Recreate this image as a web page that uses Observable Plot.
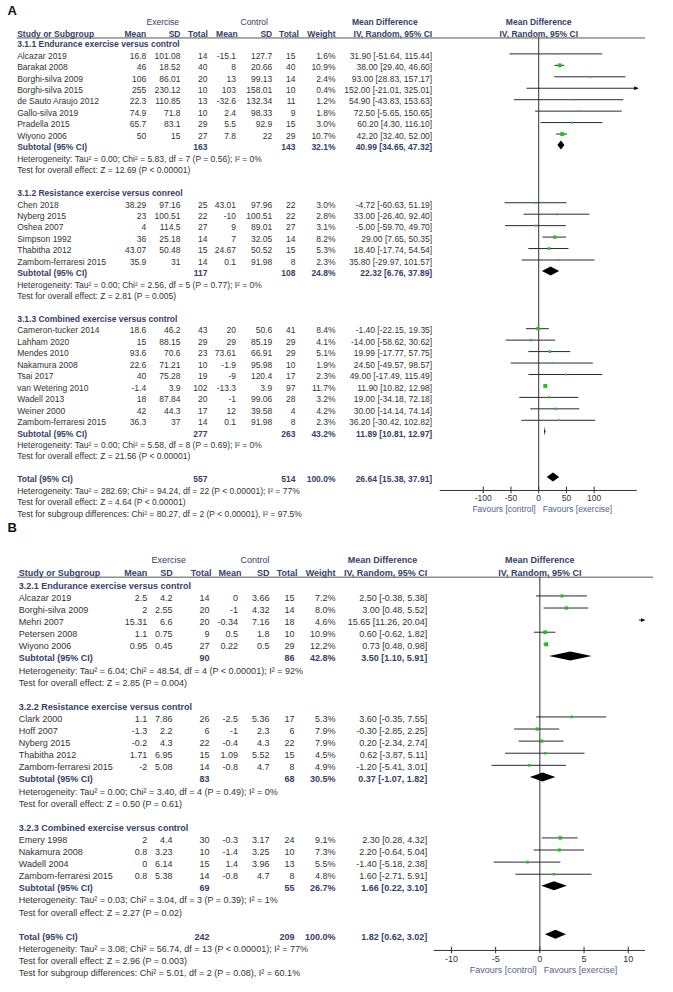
<!DOCTYPE html>
<html><head><meta charset="utf-8">
<script src="https://cdn.jsdelivr.net/npm/d3@7"></script>
<script src="https://cdn.jsdelivr.net/npm/@observablehq/plot@0.6"></script>
<style>
body{margin:0;background:#fff;}
#chart{width:673px;}
#chart svg{display:block;overflow:visible;}
</style></head><body><div id="chart"></div>
<script>
// ================= Panel A data =================
const A_groups = ["3.1.1 Endurance exercise versus control", "3.1.2 Resistance exercise versus conreol", "3.1.3 Combined exercise versus control"];
const A_study = ["Alcazar 2019","Barakat 2008","Borghi-silva 2009","Borghi-silva 2015","de Sauto Araujo 2012","Gallo-silva 2019","Pradella 2015","Wiyono 2006",
  "Chen 2018","Nyberg 2015","Oshea 2007","Simpson 1992","Thabitha 2012","Zambom-ferraresi 2015",
  "Cameron-tucker 2014","Lahham 2020","Mendes 2010","Nakamura 2008","Tsai 2017","van Wetering 2010","Wadell 2013","Weiner 2000","Zambom-ferraresi 2015"];
const A_group  = [0,0,0,0,0,0,0,0, 1,1,1,1,1,1, 2,2,2,2,2,2,2,2,2];
const A_exMean = [16.8,46,106,255,22.3,74.9,65.7,50, 38.29,23,4,36,43.07,35.9, 18.6,15,93.6,22.6,40,-1.4,18,42,36.3];
const A_exSD   = [101.08,18.52,86.01,230.12,110.85,71.8,83.1,15, 97.16,100.51,114.5,25.18,50.48,31, 46.2,88.15,70.6,71.21,75.28,3.9,87.84,44.3,37];
const A_exN    = [14,40,20,10,13,10,29,27, 25,22,27,14,15,14, 43,29,23,10,19,102,20,17,14];
const A_ctMean = [-15.1,8,13,103,-32.6,2.4,5.5,7.8, 43.01,-10,9,7,24.67,0.1, 20,29,73.61,-1.9,-9,-13.3,-1,12,0.1];
const A_ctSD   = [127.7,20.66,99.13,158.01,132.34,98.33,92.9,22, 97.96,100.51,89.01,32.05,50.52,91.98, 50.6,85.19,66.91,95.98,120.4,3.9,99.06,39.58,91.98];
const A_ctN    = [15,40,14,10,11,9,15,29, 22,22,27,14,15,8, 41,29,29,10,17,97,28,4,8];
const A_weight = [1.6,10.9,2.4,0.4,1.2,1.8,3.0,10.7, 3.0,2.8,3.1,8.2,5.3,2.3, 8.4,4.1,5.1,1.9,2.3,11.7,3.2,4.2,2.3];
const A_md     = [31.90,38.00,93.00,152.00,54.90,72.50,60.20,42.20, -4.72,33.00,-5.00,29.00,18.40,35.80, -1.40,-14.00,19.99,24.50,49.00,11.90,19.00,30.00,36.20];
const A_lo     = [-51.64,29.40,28.83,-21.01,-43.83,-5.65,4.30,32.40, -60.63,-26.40,-59.70,7.65,-17.74,-29.97, -22.15,-58.62,-17.77,-49.57,-17.49,10.82,-34.18,-14.14,-30.42];
const A_hi     = [115.44,46.60,157.17,325.01,153.63,150.65,116.10,52.00, 51.19,92.40,49.70,50.35,54.54,101.57, 19.35,30.62,57.75,98.57,115.49,12.98,72.18,74.14,102.82];
const A_subExN = [163,117,277];
const A_subCtN = [143,108,263];
const A_subWeight = [32.1,24.8,43.2];
const A_subMd = [40.99,22.32,11.89];
const A_subLo = [34.65,6.76,10.81];
const A_subHi = [47.32,37.89,12.97];
const A_subHet = ["Tau\u00b2 = 0.00; Chi\u00b2 = 5.83, df = 7 (P = 0.56); I\u00b2 = 0%",
                  "Tau\u00b2 = 0.00; Chi\u00b2 = 2.56, df = 5 (P = 0.77); I\u00b2 = 0%",
                  "Tau\u00b2 = 0.00; Chi\u00b2 = 5.58, df = 8 (P = 0.69); I\u00b2 = 0%"];
const A_subTest = ["Z = 12.69 (P < 0.00001)","Z = 2.81 (P = 0.005)","Z = 21.56 (P < 0.00001)"];
const A_total = {exN: 557, ctN: 514, weight: 100.0, md: 26.64, lo: 15.38, hi: 37.91};
const A_totHet = "Tau\u00b2 = 282.69; Chi\u00b2 = 94.24, df = 22 (P < 0.00001); I\u00b2 = 77%";
const A_totTest = "Z = 4.64 (P < 0.00001)";
const A_sgTest = "Chi\u00b2 = 80.27, df = 2 (P < 0.00001), I\u00b2 = 97.5%";
const A_ticks = [-100,-50,0,50,100];

// ================= Panel B data =================
const B_groups = ["3.2.1 Endurance exercise versus control", "3.2.2 Resistance exercise versus control", "3.2.3 Combined exercise versus control"];
const B_study = ["Alcazar 2019","Borghi-silva 2009","Mehri 2007","Petersen 2008","Wiyono 2006",
  "Clark 2000","Hoff 2007","Nyberg 2015","Thabitha 2012","Zambom-ferraresi 2015",
  "Emery 1998","Nakamura 2008","Wadell 2004","Zambom-ferraresi 2015"];
const B_group  = [0,0,0,0,0, 1,1,1,1,1, 2,2,2,2];
const B_exMean = [2.5,2,15.31,1.1,0.95, 1.1,-1.3,-0.2,1.71,-2, 2,0.8,0,0.8];
const B_exSD   = [4.2,2.55,6.6,0.75,0.45, 7.86,2.2,4.3,6.95,5.08, 4.4,3.23,6.14,5.38];
const B_exN    = [14,20,20,9,27, 26,6,22,15,14, 30,10,15,14];
const B_ctMean = [0,-1,-0.34,0.5,0.22, -2.5,-1,-0.4,1.09,-0.8, -0.3,-1.4,1.4,-0.8];
const B_ctSD   = [3.66,4.32,7.16,1.8,0.5, 5.36,2.3,4.3,5.52,4.7, 3.17,3.25,3.96,4.7];
const B_ctN    = [15,14,18,10,29, 17,6,22,15,8, 24,10,13,8];
const B_weight = [7.2,8.0,4.6,10.9,12.2, 5.3,7.9,7.9,4.5,4.9, 9.1,7.3,5.5,4.8];
const B_md     = [2.50,3.00,15.65,0.60,0.73, 3.60,-0.30,0.20,0.62,-1.20, 2.30,2.20,-1.40,1.60];
const B_lo     = [-0.38,0.48,11.26,-0.62,0.48, -0.35,-2.85,-2.34,-3.87,-5.41, 0.28,-0.64,-5.18,-2.71];
const B_hi     = [5.38,5.52,20.04,1.82,0.98, 7.55,2.25,2.74,5.11,3.01, 4.32,5.04,2.38,5.91];
const B_subExN = [90,83,69];
const B_subCtN = [86,68,55];
const B_subWeight = [42.8,30.5,26.7];
const B_subMd = [3.50,0.37,1.66];
const B_subLo = [1.10,-1.07,0.22];
const B_subHi = [5.91,1.82,3.10];
const B_subHet = ["Tau\u00b2 = 6.04; Chi\u00b2 = 48.54, df = 4 (P < 0.00001); I\u00b2 = 92%",
                  "Tau\u00b2 = 0.00; Chi\u00b2 = 3.40, df = 4 (P = 0.49); I\u00b2 = 0%",
                  "Tau\u00b2 = 0.03; Chi\u00b2 = 3.04, df = 3 (P = 0.39); I\u00b2 = 1%"];
const B_subTest = ["Z = 2.85 (P = 0.004)","Z = 0.50 (P = 0.61)","Z = 2.27 (P = 0.02)"];
const B_total = {exN: 242, ctN: 209, weight: 100.0, md: 1.82, lo: 0.62, hi: 3.02};
const B_totHet = "Tau\u00b2 = 3.08; Chi\u00b2 = 56.74, df = 13 (P < 0.00001); I\u00b2 = 77%";
const B_totTest = "Z = 2.96 (P = 0.003)";
const B_sgTest = "Chi\u00b2 = 5.01, df = 2 (P = 0.08), I\u00b2 = 60.1%";
const B_ticks = [-10,-5,0,5,10];

// shared header texts
const headerCols = ["Mean","SD","Total","Mean","SD","Total","Weight"];
const groupHeads = ["Exercise","Control"];
const mdHead1 = "Mean Difference";
const mdHead2 = "IV, Random, 95% CI";
const favours = ["Favours [control]","Favours [exercise]"];

// ================= styling / layout =================
const FONT = "'Liberation Sans', Arial, Helvetica, sans-serif";
const BOLD = "#34416a";
const BODY = "#333333";
const FAV = "#53618f";
const GREEN = "#1bc41b";

const layoutA = {
  letter: "A", fontSize: 8.5, height: 519, y0: 44, dy: 11.45,
  xDomain: [-177.7, 177.7], xRange: [439.7, 636.7],
  name: 16.7, cols: [145.7, 180, 207, 235.5, 271.7, 295, 335], heads: [145.7, 180, 207.3, 237.3, 271.7, 298.3, 335],
  md: 431.7, mdHeadCenter: 384.3, exCenter: 162.3, ctCenter: 253.7,
  letterRow: -2.97, groupHeadRow: -1.95, headRow: -0.93, headLine: -0.57, lineLeft: 16.7, lineRight: 645,
  axisRow: 38.95, tickLabelRow: 39.67, favRow: 40.63, tickHalf: 0.29, diamondHalf: 0.39, shift: -0.18, arrowEdge: 176.5
};
const layoutB = {
  letter: "B", fontSize: 9, height: 473, y0: 66.5, dy: 12.1,
  xDomain: [-11.95, 11.95], xRange: [433.7, 645],
  name: 18.3, cols: [146.7, 172, 209, 237.5, 269, 294, 335], heads: [146.7, 172.3, 211, 241, 269, 297, 335],
  md: 426.7, mdHeadCenter: 382, exCenter: 168.3, ctCenter: 254.5,
  letterRow: -4.78, groupHeadRow: -2.11, headRow: -1.09, headLine: -0.73, lineLeft: 17, lineRight: 653,
  axisRow: 30.12, tickLabelRow: 30.8, favRow: 31.78, tickHalf: 0.27, diamondHalf: 0.37, shift: -0.18, arrowEdge: 11.7
};

const P_A = {groups: A_groups, study: A_study, group: A_group, exMean: A_exMean, exSD: A_exSD, exN: A_exN,
  ctMean: A_ctMean, ctSD: A_ctSD, ctN: A_ctN, weight: A_weight, md: A_md, lo: A_lo, hi: A_hi,
  subExN: A_subExN, subCtN: A_subCtN, subWeight: A_subWeight, subMd: A_subMd, subLo: A_subLo, subHi: A_subHi,
  subHet: A_subHet, subTest: A_subTest, total: A_total, totHet: A_totHet, totTest: A_totTest, sgTest: A_sgTest, ticks: A_ticks};
const P_B = {groups: B_groups, study: B_study, group: B_group, exMean: B_exMean, exSD: B_exSD, exN: B_exN,
  ctMean: B_ctMean, ctSD: B_ctSD, ctN: B_ctN, weight: B_weight, md: B_md, lo: B_lo, hi: B_hi,
  subExN: B_subExN, subCtN: B_subCtN, subWeight: B_subWeight, subMd: B_subMd, subLo: B_subLo, subHi: B_subHi,
  subHet: B_subHet, subTest: B_subTest, total: B_total, totHet: B_totHet, totTest: B_totTest, sgTest: B_sgTest, ticks: B_ticks};

function buildRows(P) {
  const rows = [];
  let r = 0;
  P.groups.forEach((g, gi) => {
    rows.push({row: r++, kind: "group", label: g});
    P.study.forEach((s, i) => {
      if (P.group[i] !== gi) return;
      rows.push({row: r++, kind: "study", label: s,
        cells: [P.exMean[i], P.exSD[i], P.exN[i], P.ctMean[i], P.ctSD[i], P.ctN[i]],
        weight: P.weight[i], md: P.md[i], lo: P.lo[i], hi: P.hi[i]});
    });
    rows.push({row: r++, kind: "sum", label: "Subtotal (95% CI)", exN: P.subExN[gi], ctN: P.subCtN[gi],
      weight: P.subWeight[gi], md: P.subMd[gi], lo: P.subLo[gi], hi: P.subHi[gi]});
    rows.push({row: r++, kind: "note", label: "Heterogeneity: " + P.subHet[gi]});
    rows.push({row: r++, kind: "note", label: "Test for overall effect: " + P.subTest[gi]});
    r++; // blank line
  });
  rows.push({row: r++, kind: "sum", label: "Total (95% CI)", ...P.total});
  rows.push({row: r++, kind: "note", label: "Heterogeneity: " + P.totHet});
  rows.push({row: r++, kind: "note", label: "Test for overall effect: " + P.totTest});
  rows.push({row: r++, kind: "note", label: "Test for subgroup differences: " + P.sgTest});
  return rows;
}

const ciText = d => `${d.md.toFixed(2)} [${d.lo.toFixed(2)}, ${d.hi.toFixed(2)}]`;
const rightTri = {draw(ctx, size) { const s = Math.sqrt(size) / 1.6; ctx.moveTo(s, 0); ctx.lineTo(-s, -s * 0.85); ctx.lineTo(-s, s * 0.85); ctx.closePath(); }};

function panel(P, L) {
  const rows = buildRows(P);
  const studies = rows.filter(d => d.kind === "study");
  const sums = rows.filter(d => d.kind === "sum");
  const [dmin, dmax] = L.xDomain;
  const E = L.arrowEdge;
  const ci = studies.map(d => ({row: d.row + L.shift, x1: Math.max(d.lo, -E), x2: Math.min(d.hi, E), right: d.hi > E, left: d.lo < -E}));
  const pts = studies.filter(d => d.md >= dmin && d.md <= dmax);
  const diamonds = sums.flatMap((d, k) => [
    {k, x: d.lo, y1: d.row + L.shift, y2: d.row + L.shift},
    {k, x: d.md, y1: d.row + L.shift - L.diamondHalf, y2: d.row + L.shift + L.diamondHalf},
    {k, x: d.hi, y1: d.row + L.shift, y2: d.row + L.shift}]);
  const at = (dx, o) => ({frameAnchor: "left", dx, ...o});
  const marks = [];

  // panel letter
  marks.push(Plot.text([L.letter], at(7, {y: () => L.letterRow, text: d => d, textAnchor: "start", fontSize: 13, fontWeight: "bold", fill: "#111"})));
  // group headers
  marks.push(Plot.text([groupHeads[0]], at(L.exCenter, {y: () => L.groupHeadRow, text: d => d, textAnchor: "middle", fill: BOLD})));
  marks.push(Plot.text([groupHeads[1]], at(L.ctCenter, {y: () => L.groupHeadRow, text: d => d, textAnchor: "middle", fill: BOLD})));
  marks.push(Plot.text([mdHead1], at(L.mdHeadCenter, {y: () => L.groupHeadRow, text: d => d, textAnchor: "middle", fill: BOLD, fontWeight: "bold"})));
  marks.push(Plot.text([mdHead1], {x: () => 0, y: () => L.groupHeadRow, text: d => d, textAnchor: "middle", fill: BOLD, fontWeight: "bold"}));
  // header row
  marks.push(Plot.text(["Study or Subgroup"], at(L.name, {y: () => L.headRow, text: d => d, textAnchor: "start", fill: BOLD, fontWeight: "bold"})));
  headerCols.forEach((h, c) => marks.push(Plot.text([h], at(L.heads[c], {y: () => L.headRow, text: d => d, textAnchor: "end", fill: BOLD, fontWeight: "bold"}))));
  marks.push(Plot.text([mdHead2], at(L.md, {y: () => L.headRow, text: d => d, textAnchor: "end", fill: BOLD, fontWeight: "bold"})));
  marks.push(Plot.text([mdHead2], {x: () => 0, y: () => L.headRow, text: d => d, textAnchor: "middle", fill: BOLD, fontWeight: "bold"}));
  // header rule
  marks.push(Plot.ruleY([L.headLine], {y: d => d, insetLeft: L.lineLeft, insetRight: 673 - L.lineRight, stroke: "#555", strokeWidth: 1}));

  // row labels
  marks.push(Plot.text(rows.filter(d => d.kind === "group" || d.kind === "sum"), at(L.name, {y: "row", text: "label", textAnchor: "start", fill: BOLD, fontWeight: "bold"})));
  marks.push(Plot.text(rows.filter(d => d.kind === "study" || d.kind === "note"), at(L.name, {y: "row", text: "label", textAnchor: "start", fill: BODY})));
  // study cells
  for (let c = 0; c < 6; c++) {
    marks.push(Plot.text(studies, at(L.cols[c], {y: "row", text: d => String(d.cells[c]), textAnchor: "end", fill: BODY})));
  }
  marks.push(Plot.text(studies, at(L.cols[6], {y: "row", text: d => d.weight.toFixed(1) + "%", textAnchor: "end", fill: BODY})));
  marks.push(Plot.text(studies, at(L.md, {y: "row", text: ciText, textAnchor: "end", fill: BODY})));
  // subtotal / total cells
  marks.push(Plot.text(sums, at(L.cols[2], {y: "row", text: d => String(d.exN), textAnchor: "end", fill: BOLD, fontWeight: "bold"})));
  marks.push(Plot.text(sums, at(L.cols[5], {y: "row", text: d => String(d.ctN), textAnchor: "end", fill: BOLD, fontWeight: "bold"})));
  marks.push(Plot.text(sums, at(L.cols[6], {y: "row", text: d => d.weight.toFixed(1) + "%", textAnchor: "end", fill: BOLD, fontWeight: "bold"})));
  marks.push(Plot.text(sums, at(L.md, {y: "row", text: ciText, textAnchor: "end", fill: BOLD, fontWeight: "bold"})));

  // forest: zero line and axis
  marks.push(Plot.ruleX([0], {x: d => d, y1: () => L.headLine, y2: () => L.axisRow, stroke: "#333", strokeWidth: 1}));
  marks.push(Plot.ruleY([L.axisRow], {y: d => d, x1: () => dmin, x2: () => dmax, stroke: "#333", strokeWidth: 1}));
  marks.push(Plot.ruleX(P.ticks, {x: d => d, y1: () => L.axisRow - L.tickHalf, y2: () => L.axisRow + L.tickHalf, stroke: "#333"}));
  marks.push(Plot.text(P.ticks, {x: d => d, y: () => L.tickLabelRow, text: d => String(d), textAnchor: "middle", fill: BODY}));
  marks.push(Plot.text([favours[0]], {x: () => 0, y: () => L.favRow, text: d => d, textAnchor: "end", dx: -3, fill: FAV}));
  marks.push(Plot.text([favours[1]], {x: () => 0, y: () => L.favRow, text: d => d, textAnchor: "start", dx: 4, fill: FAV}));

  // confidence intervals
  marks.push(Plot.ruleY(ci, {y: "row", x1: "x1", x2: "x2", stroke: "#2a2a2a", strokeWidth: 1}));
  marks.push(Plot.dot(ci.filter(d => d.right), {x: "x2", y: "row", symbol: rightTri, r: 2.1, fill: "#111", stroke: null}));
  // weighted squares
  marks.push(Plot.dot(pts, {x: "md", y: d => d.row + L.shift, r: "weight", symbol: "square", fill: GREEN, stroke: null}));
  // diamonds
  marks.push(Plot.areaY(diamonds, {x: "x", y1: "y1", y2: "y2", z: "k", fill: "#000", curve: "linear"}));

  return Plot.plot({
    width: 673, height: L.height, margin: 0,
    x: {domain: L.xDomain, range: L.xRange, axis: null},
    y: {domain: [0, 1], range: [L.y0, L.y0 + L.dy], axis: null},
    r: {type: "sqrt", domain: [0, 12], range: [0, 2.25]},
    style: {fontFamily: FONT, fontSize: L.fontSize + "px", background: "white", color: BODY, overflow: "visible"},
    marks
  });
}

const chart = document.getElementById("chart");
chart.appendChild(panel(P_A, layoutA));
chart.appendChild(panel(P_B, layoutB));
</script>
</body></html>
